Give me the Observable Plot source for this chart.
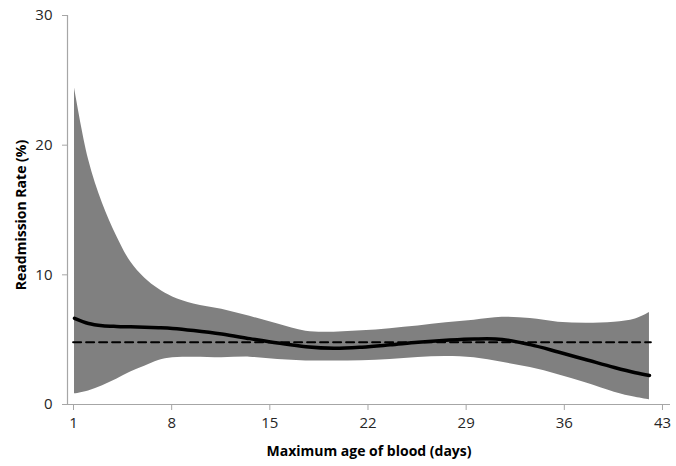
<!DOCTYPE html>
<html>
<head>
<meta charset="utf-8">
<script src="https://cdn.jsdelivr.net/npm/d3@7"></script>
<script src="https://cdn.jsdelivr.net/npm/@observablehq/plot@0.6"></script>
<style>
  html, body { margin: 0; padding: 0; background: #fff; }
  #chart { width: 676px; height: 466px; }
</style>
</head>
<body>
<div id="chart"></div>
<script>
// Days (maximum age of blood) at which the curves were read
const days = [1.5, 2.5, 3.5, 4.5, 5.5, 6.5, 7.5, 8.5, 10, 12, 14, 16, 18, 20, 22, 24, 26, 28, 30, 32, 34, 36, 38, 40, 41.5, 42.5];
// Upper confidence bound (%)
const upper = [24.4, 18.9, 15.5, 13.0, 11.0, 9.75, 8.9, 8.3, 7.76, 7.35, 6.8, 6.2, 5.65, 5.58, 5.68, 5.85, 6.05, 6.3, 6.5, 6.72, 6.63, 6.35, 6.27, 6.35, 6.6, 7.1];
// Lower confidence bound (%)
const lower = [0.82, 1.05, 1.45, 1.95, 2.5, 2.95, 3.4, 3.6, 3.65, 3.6, 3.65, 3.47, 3.36, 3.35, 3.38, 3.48, 3.62, 3.7, 3.6, 3.25, 2.85, 2.3, 1.65, 0.95, 0.55, 0.36];
// Estimated readmission rate (%)
const rate = [6.65, 6.25, 6.08, 6.02, 5.99, 5.96, 5.92, 5.86, 5.7, 5.43, 5.08, 4.74, 4.45, 4.33, 4.42, 4.6, 4.8, 4.95, 5.05, 5.02, 4.62, 4.05, 3.45, 2.85, 2.45, 2.24];
// Overall average readmission rate (%) and its extent in days
const overallRate = 4.8;
const overallDays = [1.4, 42.6];
// Axis ticks
const xTicks = [1, 8, 15, 22, 29, 36, 43];
const yTicks = [0, 10, 20, 30];
const xLabel = "Maximum age of blood (days)";
const yLabel = "Readmission Rate (%)";

const table = days.map((d, i) => ({day: d, lo: lower[i], hi: upper[i], rate: rate[i]}));
const overall = overallDays.map(d => ({day: d, rate: overallRate}));

const axisColor = "#a6a6a6";
const textColor = "#262626";

const chart = Plot.plot({
  width: 676,
  height: 466,
  marginLeft: 67,
  marginRight: 6,
  marginTop: 15,
  marginBottom: 62,
  style: {fontFamily: "'Open Sans', sans-serif", fontSize: "15px", color: textColor, background: "#fff"},
  x: {domain: [1, 44]},
  y: {domain: [0, 30]},
  marks: [
    Plot.areaY(table, {x: "day", y1: "lo", y2: "hi", fill: "#808080", curve: "catmull-rom"}),
    Plot.line(overall, {x: "day", y: "rate", stroke: "#000", strokeWidth: 2, strokeDasharray: "8,5"}),
    Plot.line(table, {x: "day", y: "rate", stroke: "#000", strokeWidth: 3.5, curve: "catmull-rom"}),
    Plot.ruleX([1], {stroke: axisColor, strokeWidth: 1.2}),
    Plot.ruleY([0], {stroke: axisColor, strokeWidth: 1.2}),
    Plot.axisY({ticks: yTicks, tickSize: 5, tickPadding: 10, stroke: axisColor, fill: textColor, label: null, fontSize: 15}),
    Plot.axisX({ticks: xTicks, tickSize: 6, tickPadding: 7, stroke: axisColor, fill: textColor, dx: 6, label: null, fontSize: 15}),
    Plot.text([yLabel], {frameAnchor: "left", textAnchor: "middle", dx: -46, dy: 5, rotate: -90, fontWeight: "bold", fontSize: 14, fill: "#000"}),
    Plot.text([xLabel], {frameAnchor: "bottom", dy: 51, fontWeight: "bold", fontSize: 14, fill: "#000"})
  ]
});
document.getElementById("chart").appendChild(chart);
</script>
</body>
</html>
